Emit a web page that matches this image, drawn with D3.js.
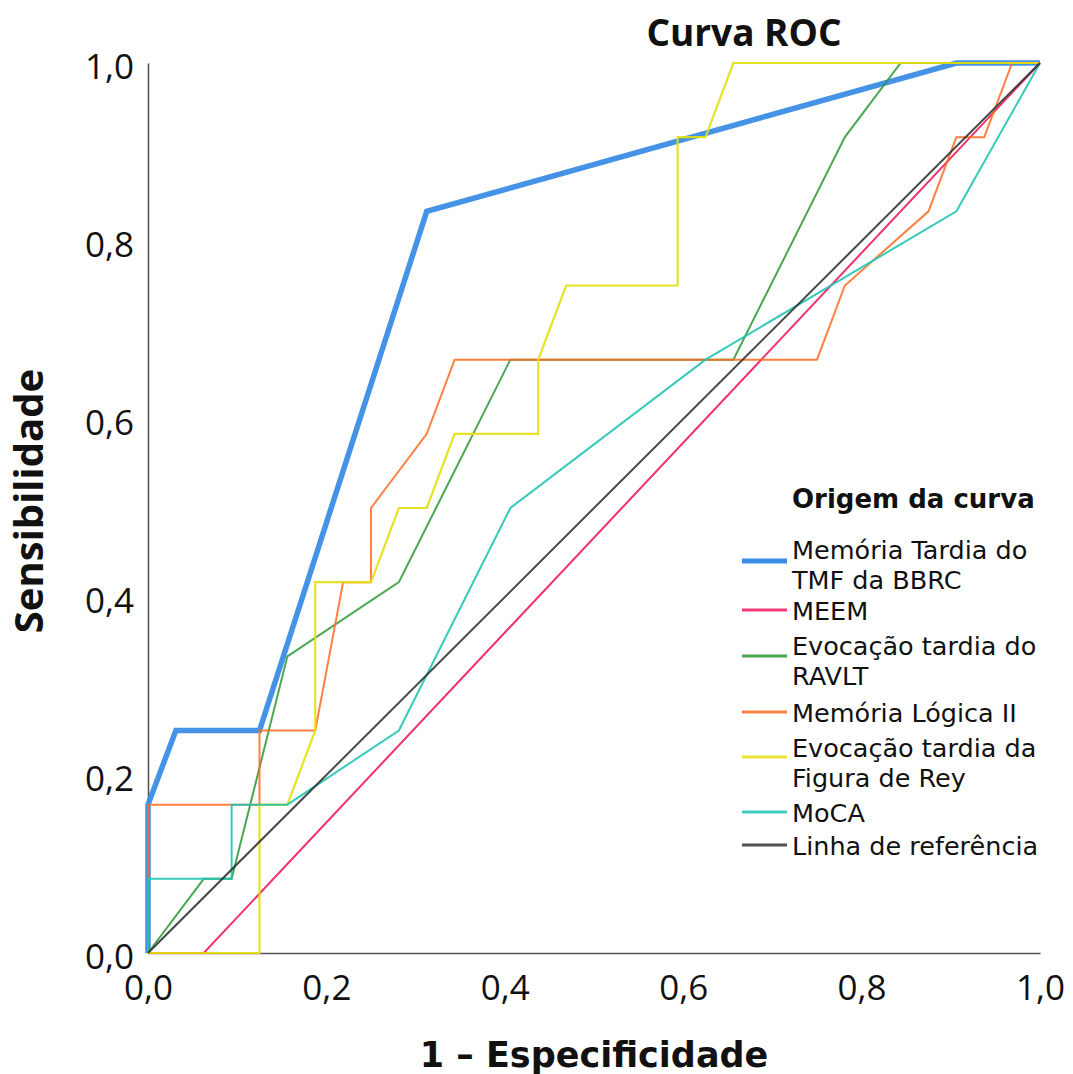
<!DOCTYPE html>
<html>
<head>
<meta charset="utf-8">
<script src="https://cdn.jsdelivr.net/npm/d3@7"></script>
<style>
  html, body { margin: 0; padding: 0; background: #fff; }
  svg { display: block; }
</style>
</head>
<body>
<svg id="chart" width="1073" height="1074"></svg>
<script>
// ---------- data ----------
const seriesNames = [
  ["Memória Tardia do", "TMF da BBRC"],
  ["MEEM"],
  ["Evocação tardia do", "RAVLT"],
  ["Memória Lógica II"],
  ["Evocação tardia da", "Figura de Rey"],
  ["MoCA"],
  ["Linha de referência"]
];
const seriesColors = ["#3a8de6", "#f0195c", "#2a9633", "#ff6a1f", "#e6df10", "#1fc4b3", "#333333"];

// points: [1 - especificidade, sensibilidade]
const tmfBbrc = [[0,0],[0,0.1667],[0.03125,0.25],[0.125,0.25],[0.3125,0.8333],[0.90625,1],[1,1]];
const meem = [[0,0],[0.0625,0],[1,1]];
const ravlt = [[0,0],[0.0625,0.0833],[0.09375,0.0833],[0.15625,0.3333],[0.28125,0.4167],[0.40625,0.6667],[0.65625,0.6667],[0.78125,0.9167],[0.84375,1],[1,1]];
const logicaII = [[0,0],[0,0.1667],[0.125,0.1667],[0.125,0.25],[0.1875,0.25],[0.21875,0.4167],[0.25,0.4167],[0.25,0.5],[0.3125,0.5833],[0.34375,0.6667],[0.75,0.6667],[0.78125,0.75],[0.875,0.8333],[0.90625,0.9167],[0.9375,0.9167],[0.96875,1],[1,1]];
const figuraRey = [[0,0],[0.125,0],[0.125,0.1667],[0.15625,0.1667],[0.1875,0.25],[0.1875,0.4167],[0.25,0.4167],[0.28125,0.5],[0.3125,0.5],[0.34375,0.5833],[0.4375,0.5833],[0.4375,0.6667],[0.46875,0.75],[0.59375,0.75],[0.59375,0.9167],[0.625,0.9167],[0.65625,1],[1,1]];
const moca = [[0,0],[0,0.0833],[0.09375,0.0833],[0.09375,0.1667],[0.15625,0.1667],[0.28125,0.25],[0.40625,0.5],[0.625,0.6667],[0.90625,0.8333],[1,1]];
const referencia = [[0,0],[1,1]];

const tickValues = [0, 0.2, 0.4, 0.6, 0.8, 1.0];
const tickLabels = ["0,0", "0,2", "0,4", "0,6", "0,8", "1,0"];

const chartTitle = "Curva ROC";
const xTitle = "1 – Especificidade";
const yTitle = "Sensibilidade";
const legendTitle = "Origem da curva";

// ---------- layout ----------
const svg = d3.select("#chart");
const x = d3.scaleLinear().domain([0, 1]).range([148, 1040]);
const y = d3.scaleLinear().domain([0, 1]).range([953, 63]);

// axes
const xAxis = d3.axisBottom(x).tickValues(tickValues).tickSize(0)
  .tickFormat((d, i) => tickLabels[i]);
const yAxis = d3.axisLeft(y).tickValues(tickValues).tickSize(0)
  .tickFormat((d, i) => tickLabels[i]);

const gx = svg.append("g").attr("transform", `translate(0,${y(0)})`).call(xAxis);
const gy = svg.append("g").attr("transform", `translate(${x(0)},0)`).call(yAxis);
[gx, gy].forEach(g => {
  g.select(".domain").attr("stroke", "#555").attr("stroke-width", 1.6);
  g.selectAll("text").attr("font-family", "'Open Sans', sans-serif")
    .attr("font-size", 35).attr("fill", "#111");
});
gx.selectAll("text").attr("dy", null).attr("y", 47);
gy.selectAll("text").attr("x", -14).attr("dy", "0.43em");

// lines
const allSeries = [tmfBbrc, meem, ravlt, logicaII, figuraRey, moca, referencia];
const widths = [5.5, 2, 2, 2, 2.2, 2, 2];
const opac = [0.95, 0.9, 0.85, 0.85, 0.9, 0.9, 0.9];
const line = d3.line().x(d => x(d[0])).y(d => y(d[1]));

allSeries.forEach((s, i) => {
  svg.append("path").datum(s)
    .attr("d", line)
    .attr("fill", "none")
    .attr("stroke", seriesColors[i])
    .attr("stroke-width", widths[i])
    .attr("stroke-opacity", opac[i])
    .attr("stroke-linejoin", "miter");
});

// titles
svg.append("text").attr("x", 744).attr("y", 46).attr("text-anchor", "middle")
  .attr("font-family", "'Open Sans', sans-serif").attr("font-weight", "bold")
  .attr("font-size", 37).attr("fill", "#111").text(chartTitle);

svg.append("text").attr("x", 594).attr("y", 1067).attr("text-anchor", "middle")
  .attr("font-family", "'DejaVu Sans', sans-serif").attr("font-weight", "bold")
  .attr("font-size", 35).attr("fill", "#111").text(xTitle);

svg.append("text").attr("transform", "translate(43,501) rotate(-90)").attr("text-anchor", "middle")
  .attr("font-family", "'Open Sans', sans-serif").attr("font-weight", "bold")
  .attr("font-size", 40).attr("fill", "#111").text(yTitle);

// legend
const lg = svg.append("g");
lg.append("text").attr("x", 792).attr("y", 508)
  .attr("font-family", "'DejaVu Sans', sans-serif").attr("font-weight", "bold")
  .attr("font-size", 26).attr("fill", "#111").text(legendTitle);

const itemBaseline = [559, 620, 655, 722, 757, 822, 855];
const swatchY = [561, 610, 656, 712, 757, 812, 845];
seriesNames.forEach((lines, i) => {
  lg.append("line").attr("x1", 742).attr("x2", 787)
    .attr("y1", swatchY[i]).attr("y2", swatchY[i])
    .attr("stroke", seriesColors[i]).attr("stroke-width", i === 0 ? 5 : 3)
    .attr("stroke-opacity", i === 0 ? 1 : 0.85);
  lines.forEach((s, j) => {
    lg.append("text").attr("x", 792).attr("y", itemBaseline[i] + j * 30)
      .attr("font-family", "'DejaVu Sans', sans-serif")
      .attr("font-size", 25.5).attr("fill", "#111").text(s);
  });
});
</script>
</body>
</html>
